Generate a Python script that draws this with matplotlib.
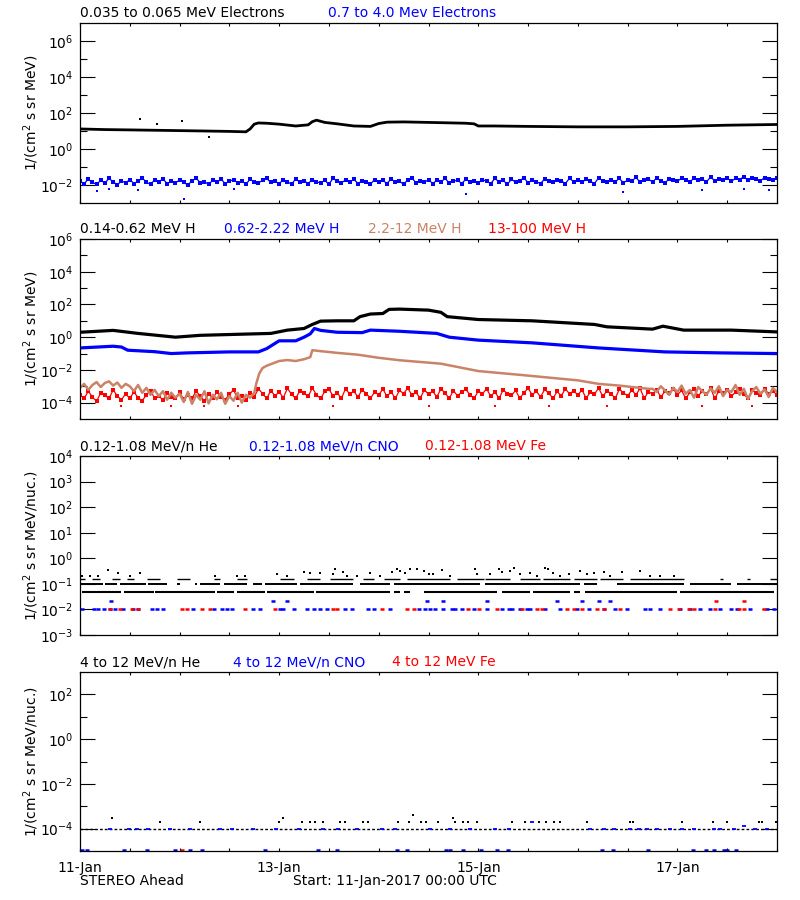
import numpy as np
import matplotlib
matplotlib.use('Agg')
import matplotlib.pyplot as plt
from matplotlib.ticker import FixedLocator, FixedFormatter, NullFormatter

BLUE = '#0000ff'
RED = '#ff0000'
BROWN = '#c98369'

# ---- panel 1 : electrons (time in hours from 11-Jan 00:00) ----
elec_lo_t = [0, 6, 12, 18, 24, 30, 36, 40, 41, 42, 43, 45, 48, 52, 55, 56, 57, 59, 62, 66,
             70, 72, 74, 78, 84, 90, 93, 95, 96, 100, 108, 120, 132, 144, 156, 168]
elec_lo_v = [13, 12, 11.5, 11, 10.5, 10, 9.5, 9, 13, 24, 28, 27, 24, 19, 22, 33, 40, 30, 25, 19,
             18, 26, 31, 32, 30, 28, 27, 25, 19, 19, 18, 17, 17, 18, 21, 23]
elec_lo_out_t = [14.4, 18.5, 24.7, 31.0]
elec_lo_out_v = [46, 26, 37, 4.6]

elec_hi_v = [
    .016, .012, .021, .014, .011, .018, .013, .023, .015, .010, .017, .013, .020, .012, .016, .025, .014, .011, .019, .015, .022, .012, .016, .013,
    .019, .014, .010, .017, .024, .013, .015, .011, .018, .014, .021, .012, .016, .020, .013, .017, .011, .021, .015, .013, .018, .023, .014, .016,
    .012, .019, .015, .011, .022, .014, .017, .012, .020, .015, .013, .018, .011, .024, .016, .013, .019, .014, .021, .012, .017, .015, .011, .020,
    .015, .018, .012, .022, .014, .016, .011, .019, .025, .013, .017, .014, .020, .012, .018, .015, .023, .013, .016, .019, .012, .021, .015, .017,
    .013, .020, .016, .012, .023, .015, .018, .011, .021, .014, .017, .026, .013, .019, .015, .012, .022, .016, .014, .020, .017, .012, .024, .015,
    .018, .014, .021, .016, .012, .025, .017, .014, .020, .015, .023, .013, .019, .016, .027, .014, .018, .021, .015, .024, .017, .013, .022, .019,
    .016, .024, .019, .014, .026, .018, .021, .015, .028, .017, .022, .019, .025, .016, .023, .020, .029, .018, .024, .021, .017, .026, .022, .019,
    .025]
elec_hi_out_t = [4, 7, 14, 25, 37, 93, 131, 150, 160, 166]
elec_hi_out_v = [0.0045, 0.006, 0.005, 0.0017, 0.006, 0.003, 0.0043, 0.005, 0.006, 0.005]

# ---- panel 2 : protons ----
p1_t = [0, 8, 14, 23, 29, 38, 46, 50, 54, 56, 58, 62, 66, 67.5, 70, 73, 74.5, 77, 84, 87, 88.5,
        96, 109, 124, 127, 138, 140.5, 145.5, 157, 168]
p1_v = [2.0, 2.6, 1.7, 1.0, 1.3, 1.5, 1.7, 2.7, 3.4, 6.0, 9.6, 10, 10, 18, 26, 28, 50, 52, 45, 33, 18,
        12, 10, 6, 4.3, 3.1, 4.7, 2.7, 2.7, 2.1]

p2_t = [0, 8, 10, 11.5, 18, 22, 26, 36, 43, 45, 48, 52, 54, 55.5, 56.5, 58, 62, 68, 70, 77,
        86, 89, 96, 109, 125, 141, 154, 168]
p2_v = [0.22, 0.28, 0.25, 0.16, 0.13, 0.1, 0.11, 0.126, 0.126, 0.2, 0.6, 0.6, 1.0, 1.6, 3.4, 2.6,
        2.0, 1.9, 2.7, 2.3, 1.7, 1.0, 0.66, 0.45, 0.22, 0.126, 0.11, 0.1]

p3_t = list(range(0, 43)) + [42.5, 43.2, 44, 45, 48, 50, 52, 54, 55.5, 56, 58, 62, 67, 72, 77, 87,
                             96, 106, 120, 125, 130, 137] + list(range(138, 169))
p3_v = [8e-4, 1.4e-3, 6e-4, 1.2e-3, 1.8e-3, 9e-4, 1.6e-3, 2e-3, 1.1e-3, 1.7e-3, 8e-4, 1.4e-3,
        1e-3, 5e-4, 1.2e-3, 4e-4, 8e-4, 3e-4, 6e-4, 2.5e-4, 5e-4, 1.5e-4, 4e-4, 2e-4, 3.5e-4,
        1.1e-4, 4.5e-4, 8.5e-5, 3e-4, 1.5e-4, 5e-4, 9e-5, 3e-4, 1.6e-4, 4e-4, 8.5e-5, 2.5e-4,
        1.3e-4, 4e-4, 1e-4, 3e-4, 2e-4, 4e-4,
        1.5e-3, 6e-3, 1.3e-2, 1.8e-2, 3.5e-2, 4e-2, 3.5e-2, 4.5e-2, 6e-2, 1.6e-1, 1.4e-1, 1.1e-1,
        8.5e-2, 5.5e-2, 3.9e-2, 2.4e-2, 8.5e-3, 5e-3, 2.3e-3, 1.4e-3, 1.1e-3, 7e-4,
        7e-4, 4.5e-4, 1e-3, 5.5e-4, 3e-4, 8e-4, 4.5e-4, 1.1e-3, 3.5e-4, 6e-4, 2e-4, 9e-4, 5e-4,
        3e-4, 7.5e-4, 4e-4, 1e-3, 2.5e-4, 6e-4, 4.5e-4, 1.2e-3, 3e-4, 7e-4, 1.7e-4, 5e-4, 9e-4,
        3.5e-4, 6.5e-4, 2.2e-4, 8e-4, 4.5e-4]

p4_v = [
    3.0e-4, 1.8e-4, 5.0e-4, 2.2e-4, 1.2e-4, 4.0e-4, 2.8e-4, 1.8e-4, 6.0e-4, 2.5e-4, 1.5e-4, 3.5e-4, 1.8e-4, 4.5e-4, 2.0e-4, 1.3e-4, 3.0e-4, 5.5e-4, 1.8e-4, 2.6e-4, 1.4e-4, 3.8e-4, 2.2e-4, 1.8e-4,
    4.2e-4, 1.6e-4, 2.8e-4, 1.8e-4, 5.2e-4, 2.4e-4, 1.3e-4, 3.4e-4, 1.8e-4, 4.6e-4, 2.1e-4, 1.5e-4, 3.2e-4, 6.0e-4, 1.8e-4, 2.7e-4, 1.4e-4, 4.0e-4, 2.3e-4, 7.0e-4, 3.6e-4, 1.8e-4, 5.5e-4, 2.6e-4,
    4.5e-4, 2.0e-4, 7.5e-4, 3.2e-4, 1.8e-4, 5.5e-4, 3.8e-4, 2.4e-4, 8.0e-4, 3.0e-4, 1.8e-4, 4.8e-4, 6.5e-4, 2.6e-4, 4.0e-4, 1.8e-4, 7.0e-4, 3.4e-4, 5.0e-4, 2.2e-4, 6.0e-4, 3.6e-4, 1.8e-4, 4.4e-4,
    3.0e-4, 6.8e-4, 2.4e-4, 4.6e-4, 1.8e-4, 5.6e-4, 3.6e-4, 7.8e-4, 2.8e-4, 4.2e-4, 1.8e-4, 6.2e-4, 3.2e-4, 5.0e-4, 2.2e-4, 7.0e-4, 3.8e-4, 1.8e-4, 5.4e-4, 2.6e-4, 4.4e-4, 6.6e-4, 3.0e-4, 1.8e-4,
    5.2e-4, 3.4e-4, 7.2e-4, 2.4e-4, 4.6e-4, 1.8e-4, 6.0e-4, 3.6e-4, 2.8e-4, 5.6e-4, 1.8e-4, 4.0e-4, 7.6e-4, 3.0e-4, 5.0e-4, 2.2e-4, 6.4e-4, 3.8e-4, 1.8e-4, 4.8e-4, 2.6e-4, 7.0e-4, 3.4e-4, 5.4e-4,
    2.8e-4, 6.2e-4, 1.8e-4, 4.4e-4, 3.2e-4, 8.0e-4, 2.4e-4, 5.2e-4, 3.6e-4, 1.8e-4, 6.6e-4, 4.0e-4, 2.6e-4, 5.8e-4, 3.0e-4, 7.4e-4, 1.8e-4, 4.6e-4, 3.4e-4, 6.0e-4, 2.2e-4, 5.0e-4, 3.8e-4, 7.0e-4,
    3.0e-4, 5.6e-4, 1.8e-4, 4.2e-4, 6.8e-4, 2.6e-4, 4.8e-4, 3.4e-4, 7.6e-4, 1.8e-4, 5.2e-4, 3.8e-4, 6.2e-4, 2.4e-4, 4.4e-4, 7.2e-4, 3.2e-4, 1.8e-4, 5.8e-4, 4.0e-4, 2.8e-4, 6.6e-4, 3.6e-4, 5.0e-4,
    3.0e-4]
p4_out_t = [10, 22, 30, 38, 61, 84, 100, 113, 127, 150, 162]
p4_out_v = [6e-5] * 11

# ---- panel 3 : 0.12-1.08 MeV/n ions ----
he_005_seg = [(0.4, 10), (10.5, 17.8), (18.1, 32.5), (33, 37), (37.8, 44.6), (45, 56.3), (57, 74.8),
              (75.6, 77.2), (78, 79.6), (82.8, 100.5), (101.7, 108.5), (109.3, 118.2), (119, 120.6),
              (121.8, 143.9), (144.7, 167.2)]
he_01_seg = [(0, 5.6), (6, 8.8), (9.6, 16), (16.5, 20.9), (23.3, 24.1), (27.7, 28.1), (28.9, 33.8),
             (34.6, 40.2), (41.8, 43.8), (44.6, 52.3), (53, 65.9), (67.5, 74.8), (75.6, 96.5),
             (97.7, 120.6), (121.4, 124.6), (129.4, 145.5), (147.1, 156.8), (158.4, 168)]
he_016_seg = [(0, 1.2), (2.8, 4.8), (7.6, 9.6), (11.3, 12.9), (16.1, 19.3), (23.3, 26.5), (32.2, 33.8),
              (37.8, 40.2), (48.2, 51.5), (54.7, 57.9), (60.3, 65.9), (68.3, 70.8), (73.2, 77.2),
              (78.8, 89.2), (90.8, 97.3), (97.7, 103.7), (106.1, 110.9), (111.7, 118.2), (119, 124.6),
              (125.4, 131), (132.6, 145.5), (154.3, 155.1), (160.8, 161.6), (166.4, 168)]
he_pts_t = [0.4, 2.4, 4.4, 6.8, 9.2, 12.1, 14.5, 32.6, 37.8, 39.8, 47.4, 49.8, 53.9, 55.5, 57.9,
            61.1, 61.5, 63.5, 64.3, 66.7, 69.9, 72.4, 75.2, 76.4, 77.2, 78.4, 79.6, 81.2, 82.8, 84,
            85.2, 87.2, 89.2, 95.3, 95.7, 98.9, 100.9, 101.7, 103.7, 104.5, 106.1, 108.5, 110.1,
            112.1, 112.9, 114.1, 115.8, 117.8, 120.6, 122.2, 123.8, 126.2, 127.8, 130.6, 135,
            137.5, 139.9, 143.1]
he_pts_v = [0.21, 0.21, 0.21, 0.35, 0.26, 0.21, 0.26, 0.21, 0.21, 0.21, 0.24, 0.21, 0.3, 0.26, 0.26,
            0.24, 0.39, 0.28, 0.21, 0.21, 0.26, 0.21, 0.3, 0.39, 0.33, 0.26, 0.39, 0.39, 0.33, 0.24,
            0.24, 0.35, 0.21, 0.39, 0.24, 0.24, 0.39, 0.28, 0.33, 0.42, 0.24, 0.26, 0.21,
            0.42, 0.39, 0.26, 0.21, 0.24, 0.33, 0.24, 0.26, 0.3, 0.21, 0.28, 0.33,
            0.21, 0.21, 0.21]
cno_t = [0.4, 3.4, 4.4, 5.8, 7.2, 8.5, 10.3, 12.7, 14.1, 17.3, 18.5, 20.1, 27.3, 32.2, 34.2, 35.4,
         36.6, 41.8, 43.4, 48.2, 49, 51.5, 54.7, 56.3, 57.9, 59.5, 63.9, 65.5, 69.3, 70.8, 74.6,
         81.6, 83.2, 84.4, 85.6, 87.6, 89.6, 90.4, 92, 94.9, 98.1, 101.7, 103.3, 104.1, 106.1,
         107.7, 108.5, 112.1, 115.6, 119.8, 122.6, 126.2, 129, 131.8, 136.2, 137.5, 139.9, 144.7,
         147.1, 149.5, 151.9, 154.3, 156.8, 158.4, 161.6, 165.6, 167.2]
cno2_t = [7.5, 46.6, 49.8, 83.6, 87.4, 98.1, 115, 121, 125, 127.7]
fe_t = [7.2, 9.6, 12.5, 14.1, 24.5, 25.7, 29.3, 31.4, 39.8, 47, 61.1, 61.9, 72.8, 78.8, 80.4,
        93.6, 96.1, 100.5, 106.5, 110.1, 111.3, 117.4, 119, 121, 124.6, 126.2, 130.2, 142.3,
        144.3, 146.7, 147.9, 153.1, 158.8, 160, 164.8]
fe2_t = [153.4, 160.1]

# ---- panel 4 : 4-12 MeV/n ions ----
he4_base_seg = [(0, 168)]
he4_t = [7.7, 19.2, 29, 48, 49, 53.5, 55.4, 56.6, 58.6, 62.6, 63.8, 68.2, 69.4, 76.6, 79.4, 80.2,
         82.1, 83.3, 86.2, 89.8, 90.5, 92.4, 93.6, 95.8, 104.2, 107.3, 110.6, 112.3, 114.2, 115.7,
         122.2, 132.5, 133.2, 145, 152.6, 156, 163.7, 164.4, 167.8]
he4_v = [3e-4, 2e-4, 2e-4, 2e-4, 3e-4, 2e-4, 2e-4, 2e-4, 2e-4, 2e-4, 2e-4, 2e-4, 2e-4, 2e-4, 2e-4, 4e-4,
         2e-4, 2e-4, 2e-4, 3e-4, 2e-4, 2e-4, 2e-4, 2e-4, 2e-4, 2e-4, 2e-4, 2e-4, 2e-4, 2e-4,
         2e-4, 2e-4, 2e-4, 2e-4, 2e-4, 2e-4, 2e-4, 2e-4, 2e-4]
cno4_t = [7.2, 11.7, 13.7, 16.5, 21.7, 26.5, 33.8, 36.6, 41.8, 47.3, 52.7, 58.5, 62.3, 66.7, 72.8,
          76, 84.4, 89.2, 94, 100.1, 103.3, 123, 126.2, 128.6, 132.6, 134.7, 136.7, 139.1, 142.3,
          145.1, 147.9, 152.7, 154.3, 157.6, 160, 162.8, 165.6, 108.9]
cno4_v = [1e-4] * 34 + [1.3e-4, 1e-4, 1e-4, 2e-4]
cno4_low_t = [0.5, 1.7, 10.6, 16.1, 22.8, 26.6, 29.5, 44.6, 57.4, 61.9, 76.3, 78.7, 88.3, 89.3, 92.2,
              96.7, 100.6, 103.2, 125.8, 128.4, 137, 147.8, 151, 152.9, 155.3, 156, 158.2]
fe4_low_t = [24.7]

day_ticks = [0, 48, 96, 144]
day_labels = ['11-Jan', '13-Jan', '15-Jan', '17-Jan']

fig = plt.figure(figsize=(8, 9), dpi=100)
plt.rcParams['font.family'] = 'DejaVu Sans'


def px(x, y):
    return x / 800, 1 - y / 900


def make_axes(top, bot, lo, hi, labelled, minor):
    ax = fig.add_axes([80 / 800, 1 - bot / 900, 697 / 800, (bot - top) / 900])
    ax.set_yscale('log')
    ax.set_xlim(0, 168)
    ax.set_ylim(10.0 ** lo, 10.0 ** hi)
    ax.yaxis.set_major_locator(FixedLocator([10.0 ** e for e in labelled]))
    ax.yaxis.set_major_formatter(FixedFormatter([r'$10^{%d}$' % e for e in labelled]))
    ax.yaxis.set_minor_locator(FixedLocator([10.0 ** e for e in minor]))
    ax.yaxis.set_minor_formatter(NullFormatter())
    ax.xaxis.set_major_locator(FixedLocator(day_ticks))
    ax.xaxis.set_minor_locator(FixedLocator(np.arange(0, 169, 12)))
    ax.tick_params(axis='y', which='major', direction='in', length=10.8, width=0.8,
                   right=True, labelsize=10, pad=5)
    ax.tick_params(axis='y', which='minor', direction='in', length=5.2, width=0.8, right=True)
    ax.tick_params(axis='x', which='both', direction='in', length=2.2, width=0.8, top=True,
                   labelsize=10, pad=7)
    ax.set_xticklabels([])
    for s in ax.spines.values():
        s.set_linewidth(0.9)
    return ax


def draw_segments(ax, segs, level, **kw):
    s0, s1 = zip(*segs)
    ax.hlines([level] * len(s0), s0, s1, **kw)


hours = np.arange(169)

# panel 1
ax1 = make_axes(23, 203, -3, 7, [-2, 0, 2, 4, 6], [-1, 1, 3, 5])
ax1.plot(elec_lo_t, elec_lo_v, color='k', lw=2.0)
ax1.plot(elec_lo_out_t, elec_lo_out_v, 's', color='k', ms=1.8, mew=0)
ax1.plot(hours, elec_hi_v, color=BLUE, lw=0.9, marker='s', ms=2.6, mew=0)
ax1.plot(elec_hi_out_t, elec_hi_out_v, 's', color=BLUE, ms=1.8, mew=0)
ax1.set_ylabel(r'1/(cm$^2$ s sr MeV)', fontsize=10)
ax1.yaxis.set_label_coords(-0.056, 0.5)

# panel 2
ax2 = make_axes(239, 419, -5, 6, [-4, -2, 0, 2, 4, 6], [-3, -1, 1, 3, 5])
ax2.plot(hours, p4_v, color=RED, lw=0.9, marker='s', ms=2.6, mew=0)
ax2.plot(p4_out_t, p4_out_v, 's', color=RED, ms=1.8, mew=0)
ax2.plot(p3_t, p3_v, color=BROWN, lw=1.8)
ax2.plot(p2_t, p2_v, color=BLUE, lw=2.3)
ax2.plot(p1_t, p1_v, color='k', lw=2.3)
ax2.set_ylabel(r'1/(cm$^2$ s sr MeV)', fontsize=10)
ax2.yaxis.set_label_coords(-0.056, 0.5)

# panel 3
ax3 = make_axes(456, 635, -3, 4, [-3, -2, -1, 0, 1, 2, 3, 4], [])
draw_segments(ax3, he_005_seg, 0.05, colors='k', lw=1.5)
draw_segments(ax3, he_01_seg, 0.1, colors='k', lw=1.4)
draw_segments(ax3, he_016_seg, 0.155, colors='k', lw=1.0)
ax3.plot(he_pts_t, he_pts_v, 's', color='k', ms=1.9, mew=0)
ax3.plot(cno_t, [0.01] * len(cno_t), '_', color=BLUE, ms=3.5, mew=1.8)
ax3.plot(cno2_t, [0.021] * len(cno2_t), '_', color=BLUE, ms=2.5, mew=1.8)
ax3.plot(fe_t, [0.01] * len(fe_t), '_', color=RED, ms=3.5, mew=1.8)
ax3.plot(fe2_t, [0.021] * len(fe2_t), '_', color=RED, ms=2.5, mew=1.8)
ax3.set_ylabel(r'1/(cm$^2$ s sr MeV/nuc.)', fontsize=10)
ax3.yaxis.set_label_coords(-0.056, 0.5)

# panel 4
ax4 = make_axes(672, 851, -5, 3, [-4, -2, 0, 2], [-3, -1, 1])
draw_segments(ax4, he4_base_seg, 1e-4, colors='k', lw=1.0, linestyles=(0, (2, 1.5)))
ax4.plot(he4_t, he4_v, 's', color='k', ms=1.9, mew=0)
ax4.plot(cno4_t, cno4_v, '_', color=BLUE, ms=3.5, mew=1.3)
ax4.plot(cno4_low_t, [1.1e-5] * len(cno4_low_t), '_', color=BLUE, ms=2.5, mew=1.8)
ax4.plot(fe4_low_t, [1.1e-5] * len(fe4_low_t), '_', color=RED, ms=2.5, mew=1.8)
ax4.set_ylabel(r'1/(cm$^2$ s sr MeV/nuc.)', fontsize=10)
ax4.yaxis.set_label_coords(-0.056, 0.5)
ax4.set_xticklabels(day_labels)

# panel titles
titles = [
    (13, [(80, '0.035 to 0.065 MeV Electrons', 'k'), (328, '0.7 to 4.0 Mev Electrons', BLUE)]),
    (229, [(80, '0.14-0.62 MeV H', 'k'), (224, '0.62-2.22 MeV H', BLUE),
           (368, '2.2-12 MeV H', BROWN), (488, '13-100 MeV H', RED)]),
    (446, [(80, '0.12-1.08 MeV/n He', 'k'), (249, '0.12-1.08 MeV/n CNO', BLUE),
           (425, '0.12-1.08 MeV Fe', RED)]),
    (662, [(80, '4 to 12 MeV/n He', 'k'), (233, '4 to 12 MeV/n CNO', BLUE),
           (392, '4 to 12 MeV Fe', RED)]),
]
for yy, items in titles:
    for xx, txt, col in items:
        fig.text(*px(xx, yy), txt, color=col, fontsize=10, ha='left', va='center')

fig.text(*px(80, 881), 'STEREO Ahead', fontsize=10, ha='left', va='center')
fig.text(*px(293, 881), 'Start: 11-Jan-2017 00:00 UTC', fontsize=10, ha='left', va='center')

fig.savefig('out.png', dpi=100)
